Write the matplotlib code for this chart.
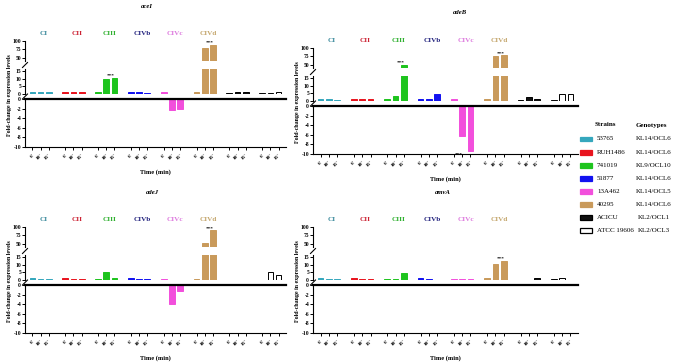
import matplotlib
matplotlib.use('Agg')
import matplotlib.pyplot as plt
from matplotlib.lines import Line2D
from matplotlib.patches import Rectangle

plt.rcParams['font.family'] = ['Liberation Serif', 'DejaVu Serif']
plt.rcParams['font.weight'] = 'bold'

W, H = 682, 364

strains = ['53765', 'RUH1486', '741019', '51877', '13A462', '40295', 'ACICU', 'ATCC 19606']
genotypes = ['KL14/OCL6', 'KL14/OCL6', 'KL9/OCL10', 'KL14/OCL6', 'KL14/OCL5',
             'KL14/OCL6', 'KL2/OCL1', 'KL2/OCL3']
clades = ['CI', 'CII', 'CIII', 'CIVb', 'CIVc', 'CIVd']
times = ["6'", "10'", "15'"]

# fold change per strain (6', 10', 15')
aceI = [[1, 1, 1], [1, 1, 1], [1, 10, 10.5], [1, 1, 0.6],
        [1, -2.2, -2.0], [1, 78, 88], [0.5, 1.2, 1.0], [0.5, 0.8, 1.3]]
adeB = [[1, 1, 0.8], [1.2, 1.1, 1], [1.2, 3, 50], [1, 1.2, 4.5],
        [1, -6.2, -9.3], [1, 75, 78], [0.8, 2.5, 1.5], [0.5, 4.5, 4.5]]
adeJ = [[1.2, 0.5, 0.5], [1.2, 0.5, 0.5], [0.5, 5, 1.2], [1, 0.6, 0.8],
        [0.5, -4, -1.3], [0.5, 52, 90], [0.3, 0.3, 0.3], [0.3, 5, 3]]
amvA = [[1.2, 0.5, 0.5], [1.2, 0.5, 0.5], [0.5, 0.5, 4.5], [1, 0.5, 0.3],
        [0.5, 0.5, 0.5], [1.2, 10.5, 12.5], [0.3, 0.3, 1.2], [0.5, 1.0, 0.3]]

# significant bars (strain, time)
aceI_sig = [(2, 2), (5, 2)]
adeB_sig = [(2, 2), (4, 1), (5, 2)]
adeJ_sig = [(5, 2)]
amvA_sig = [(5, 2)]

bar_colors = ['#35a7bd', '#e8141e', '#1ec41e', '#1212f0', '#f24fdc', '#c99a5b', '#111111', 'white']
clade_colors = ['#3b8a9c', '#cc2233', '#2fb02f', '#23237e', '#dd7ade', '#c4a66c']

fig = plt.figure(figsize=(W / 100, H / 100), dpi=100)


def add_ax(x0, y0, x1, y1):
    return fig.add_axes([x0 / W, 1 - y1 / H, (x1 - x0) / W, (y1 - y0) / H])


def fig_line(xs, ys, lw=0.8):
    fig.add_artist(Line2D([x / W for x in xs], [1 - y / H for y in ys],
                          color='black', lw=lw, transform=fig.transFigure))


def draw_panel(name, data, sig, x0, x1, y100, title_x):
    pos, vals, cols, edges = [], [], [], []
    for g, row in enumerate(data):
        for j, v in enumerate(row):
            pos.append(g * 4 + j)
            vals.append(v)
            cols.append(bar_colors[g])
            edges.append('black' if g >= 6 else bar_colors[g])

    ax_top = add_ax(x0, y100, x1, y100 + 20)
    ax_mid = add_ax(x0, y100 + 28, x1, y100 + 53)
    ax_low = add_ax(x0, y100 + 58, x1, y100 + 106)
    segs = [(ax_top, (41, 100), [50, 75, 100]),
            (ax_mid, (0, 16.3), [0, 5, 10, 15]),
            (ax_low, (-10, 0), [0, -2, -4, -6, -8, -10])]
    for ax, lim, ticks in segs:
        ax.bar(pos, vals, width=0.7, color=cols, edgecolor=edges, linewidth=0.7)
        ax.set_ylim(*lim)
        ax.set_xlim(-0.9, 30.9)
        ax.set_yticks(ticks)
        ax.set_yticklabels([str(t) for t in ticks], fontsize=4, fontweight='bold')
        ax.tick_params(axis='y', direction='out', length=2, width=0.7, pad=0.8)
        for s in ['top', 'right', 'bottom']:
            ax.spines[s].set_visible(False)
        ax.spines['left'].set_linewidth(0.8)
        ax.patch.set_alpha(0)
        if ax is not ax_low:
            ax.set_xticks([])
    ax_low.spines['bottom'].set_visible(True)
    ax_low.spines['bottom'].set_linewidth(0.8)
    ax_low.spines['top'].set_visible(True)
    ax_low.spines['top'].set_linewidth(1.6)
    ax_low.set_xticks(pos)
    ax_low.set_xticklabels(times * 8, rotation=45, ha='right', rotation_mode='anchor',
                           fontsize=3.8, fontweight='bold')
    ax_low.tick_params(axis='x', direction='out', length=2.5, width=0.7, pad=1.5)

    # break marks on the y axis
    for yb in (y100 + 24, y100 + 55.5):
        fig_line([x0 - 2.5, x0 + 2.5], [yb + 2.5, yb - 2.5], lw=0.8)

    # clade labels
    for g, lab in enumerate(clades):
        ax_top.text(g * 4 + 1.4, 1.25, lab, color=clade_colors[g], fontsize=5.2,
                    fontweight='bold', ha='center', va='bottom',
                    transform=ax_top.get_xaxis_transform())

    # significance stars
    for g, j in sig:
        v = data[g][j]
        x = g * 4 + j - 0.4
        if v >= 41:
            ax_top.text(x, max(data[g]) + 1, '***', fontsize=3.8, ha='center', va='bottom')
        elif v > 0:
            ax_mid.text(x, max(data[g]) + 0.3, '***', fontsize=3.8, ha='center', va='bottom')
        else:
            ax_low.text(x, -9.6, '***', fontsize=3.8, ha='center', va='top')

    xc = (x0 + x1) / 2
    fig.text(title_x / W, 1 - (y100 - 35) / H, name, fontsize=4.8, fontstyle='italic',
             fontweight='bold', ha='center', va='center')
    fig.text(xc / W, 1 - (y100 + 131) / H, 'Time (min)', fontsize=4.6,
             fontweight='bold', ha='center', va='center')
    fig.text((x0 - 15) / W, 1 - (y100 + 54) / H, 'Fold-change in expression levels',
             fontsize=4.3, fontweight='bold', rotation=90, ha='center', va='center')


draw_panel('aceI', aceI, aceI_sig, 25, 286, 41, 147)
draw_panel('adeB', adeB, adeB_sig, 313, 578, 48, 460)
draw_panel('adeJ', adeJ, adeJ_sig, 25, 286, 227, 152)
draw_panel('amvA', amvA, amvA_sig, 313, 578, 227, 443)

# legend
fig.text(605 / W, 1 - 125 / H, 'Strains', fontsize=5, fontweight='bold', ha='center', va='center')
fig.text(651 / W, 1 - 125 / H, 'Genotypes', fontsize=5, fontweight='bold', ha='center', va='center')
for i, (s, gt) in enumerate(zip(strains, genotypes)):
    y = 139 + i * 13.1
    fig.add_artist(Rectangle((580 / W, 1 - (y + 2.5) / H), 12 / W, 5 / H,
                             facecolor=bar_colors[i], edgecolor='black' if i >= 6 else bar_colors[i],
                             lw=0.9, transform=fig.transFigure))
    fig.text(597 / W, 1 - y / H, s, fontsize=5, ha='left', va='center', fontweight='normal')
    fig.text(654 / W, 1 - y / H, gt, fontsize=5, ha='center', va='center', fontweight='normal')

fig.savefig('out.png', dpi=100)
